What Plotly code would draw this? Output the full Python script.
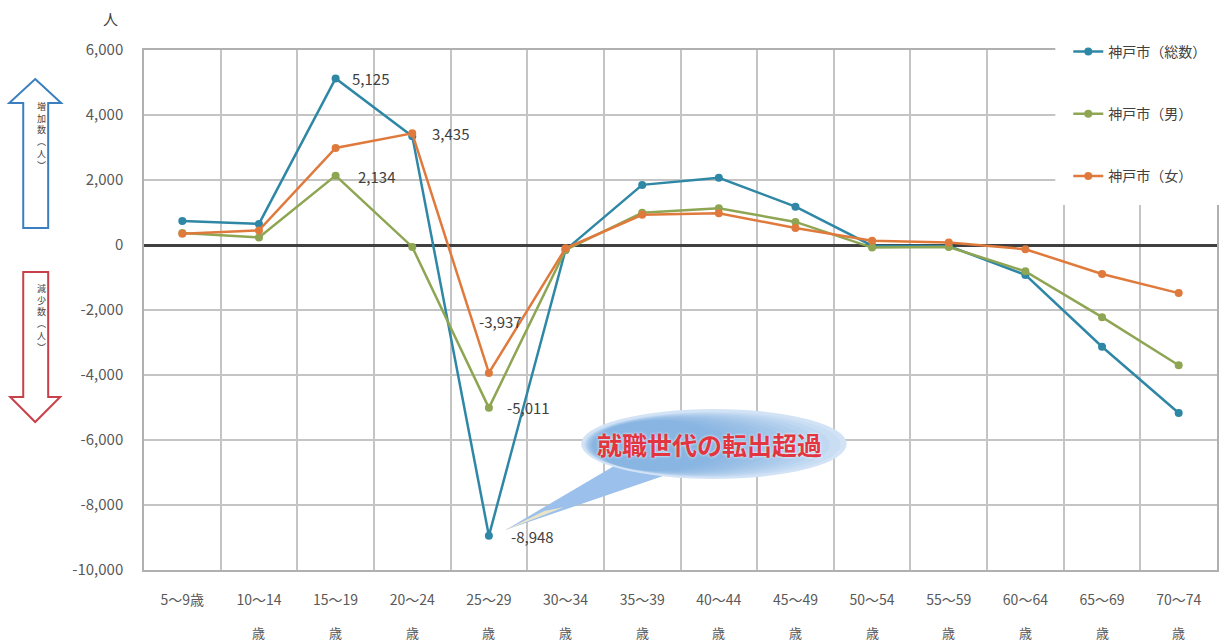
import plotly.graph_objects as go

# Age groups (first line of tick label) and the second-line suffix
ages = ["5～9歳", "10～14", "15～19", "20～24", "25～29", "30～34", "35～39",
        "40～44", "45～49", "50～54", "55～59", "60～64", "65～69", "70～74"]
age_suffix = ["", "歳", "歳", "歳", "歳", "歳", "歳", "歳", "歳", "歳", "歳", "歳", "歳", "歳"]

# Net migration by age group (persons)
total = [740, 650, 5125, 3350, -8948, -150, 1850, 2070, 1180, -20, -30, -920, -3130, -5170]
male = [370, 230, 2134, -60, -5011, -150, 990, 1130, 710, -80, -60, -810, -2220, -3700]
female = [350, 450, 2985, 3435, -3937, -100, 930, 980, 520, 130, 80, -130, -890, -1480]

y_ticks = [6000, 4000, 2000, 0, -2000, -4000, -6000, -8000, -10000]
y_tick_text = ["6,000", "4,000", "2,000", "0", "-2,000", "-4,000", "-6,000", "-8,000", "-10,000"]

series = [
    ("神戸市（総数）", total, "#2f87a6"),
    ("神戸市（男）", male, "#8ea653"),
    ("神戸市（女）", female, "#e07a3c"),
]

FONT = "Noto Sans CJK JP"
W, H = 1229, 644
L, R, T, B = 144, 1219, 50, 570


def px(x):
    return (x - L) / (R - L)


def py(y):
    return (B - y) / (B - T)


fig = go.Figure()
for i, (name, vals, color) in enumerate(series):
    fig.add_trace(go.Scatter(
        x=ages, y=vals, name=name, mode="lines+markers",
        line=dict(color=color, width=2.5),
        marker=dict(color=color, size=8),
        legendgroup=str(i),
    ))

shapes = []

# White panel behind the legend
shapes.append(dict(type="rect", xref="paper", yref="paper",
                   x0=px(1057), x1=px(1229), y0=py(205), y1=py(28),
                   fillcolor="white", line=dict(width=0), layer="above"))

# Up / down arrows beside the y axis
up_arrow = [(35, 79), (61, 103), (48, 103), (48, 228), (23, 228), (23, 103), (9, 103)]
down_arrow = [(23, 272), (48, 272), (48, 397), (60, 397), (35, 422), (10, 397), (23, 397)]


def poly(points):
    return "M " + " L ".join(f"{px(a):.5f},{py(b):.5f}" for a, b in points) + " Z"


shapes.append(dict(type="path", xref="paper", yref="paper", path=poly(up_arrow),
                   line=dict(color="#3b7fc0", width=2), fillcolor="white"))
shapes.append(dict(type="path", xref="paper", yref="paper", path=poly(down_arrow),
                   line=dict(color="#c8404a", width=2), fillcolor="white"))

# Speech bubble: tail then layered ellipses for a soft gradient
tail = [(620, 463), (664, 476), (506, 530)]
shapes.append(dict(type="path", xref="paper", yref="paper", path=poly(tail),
                   line=dict(width=0), fillcolor="#9cc0ec", layer="above"))
shapes.append(dict(type="path", xref="paper", yref="paper",
                   path=poly([(545, 511), (565, 507), (506, 530)]),
                   line=dict(width=0), fillcolor="#ebe4c6", layer="above"))
shapes.append(dict(type="circle", xref="paper", yref="paper",
                   x0=px(582), x1=px(848), y0=py(479), y1=py(409),
                   fillcolor="#d3e3f6", line=dict(width=0), layer="above"))
for k in range(12):
    shapes.append(dict(type="circle", xref="paper", yref="paper",
                       x0=px(585 + k * 0.8), x1=px(842 - k * 11),
                       y0=py(477 - k * 0.6), y1=py(412 + k * 0.8),
                       fillcolor="#6a9fe0", opacity=0.085,
                       line=dict(width=0), layer="above"))

annotations = []

# Data labels for the peaks
labels = [
    (ages[2], total[2], "left", 14, 0),
    (ages[3], female[3], "left", 18, 0),
    (ages[2], male[2], "left", 20, -1),
    (ages[4], female[4], "center", 12, 51),
    (ages[4], male[4], "left", 16, 0),
    (ages[4], total[4], "left", 20, -1),
]
for x, v, anchor, xs, ys in labels:
    annotations.append(dict(x=x, y=v, text=f"{v:,}", showarrow=False,
                            xanchor=anchor, yanchor="middle", xshift=xs, yshift=ys,
                            font=dict(family=FONT, size=15, color="#404040")))

# Second line of the age tick labels
for a, s in zip(ages, age_suffix):
    if s:
        annotations.append(dict(x=a, y=0, yref="paper", text=s, showarrow=False,
                                yanchor="middle", yshift=-62,
                                font=dict(family=FONT, size=13, color="#595959")))

# Unit label
annotations.append(dict(x=px(101), y=py(19), xref="paper", yref="paper", text="人",
                        showarrow=False, yanchor="middle",
                        font=dict(family=FONT, size=15, color="#404040")))

# Vertical captions inside the arrows
annotations.append(dict(x=px(35), y=py(136), xref="paper", yref="paper",
                        text="増<br>加<br>数<br>︵<br>人<br>︶", showarrow=False,
                        yanchor="middle",
                        font=dict(family=FONT, size=9, color="#444444")))
annotations.append(dict(x=px(35), y=py(318), xref="paper", yref="paper",
                        text="減<br>少<br>数<br>︵<br>人<br>︶", showarrow=False,
                        yanchor="middle",
                        font=dict(family=FONT, size=9, color="#444444")))

# Callout text
annotations.append(dict(x=px(711), y=py(444), xref="paper", yref="paper",
                        text="<b>就職世代の転出超過</b>", showarrow=False,
                        yanchor="middle",
                        font=dict(family=FONT, size=25, color="#e2353f",
                                  shadow="0px 0px 3px #ffffff")))

# Title, mostly above the page edge
annotations.append(dict(x=px(630), y=py(5), xref="paper", yref="paper",
                        text="<b>（男女）</b>", showarrow=False, yanchor="bottom",
                        font=dict(family=FONT, size=20, color="#ff0000")))

fig.update_layout(
    width=W, height=H,
    margin=dict(l=L, r=W - R, t=T, b=H - B),
    paper_bgcolor="white", plot_bgcolor="white",
    font=dict(family=FONT, color="#595959"),
    showlegend=True,
    legend=dict(x=px(1070), y=py(36), xanchor="left", yanchor="top",
                bgcolor="rgba(0,0,0,0)", font=dict(family=FONT, size=14, color="#404040"),
                traceorder="grouped", tracegroupgap=41, itemwidth=30),
    xaxis=dict(type="category", tickson="boundaries", showgrid=True,
               gridcolor="#c4c4c4", gridwidth=1.5, showline=True, linecolor="#b0b0b0",
               linewidth=1.5, mirror=True, ticks="", ticklabelstandoff=16,
               tickfont=dict(family=FONT, size=14, color="#595959"),
               range=[-0.5, 13.5], fixedrange=True),
    yaxis=dict(range=[-10000, 6000], tickvals=y_ticks, ticktext=y_tick_text,
               showgrid=True, gridcolor="#c4c4c4", gridwidth=1.5,
               zeroline=True, zerolinecolor="#404040", zerolinewidth=2.5,
               showline=True, linecolor="#b0b0b0", linewidth=1.5, mirror=True,
               ticks="", ticklabelstandoff=16,
               tickfont=dict(family=FONT, size=15, color="#595959")),
    shapes=shapes,
    annotations=annotations,
)

fig.write_html("out.html")
